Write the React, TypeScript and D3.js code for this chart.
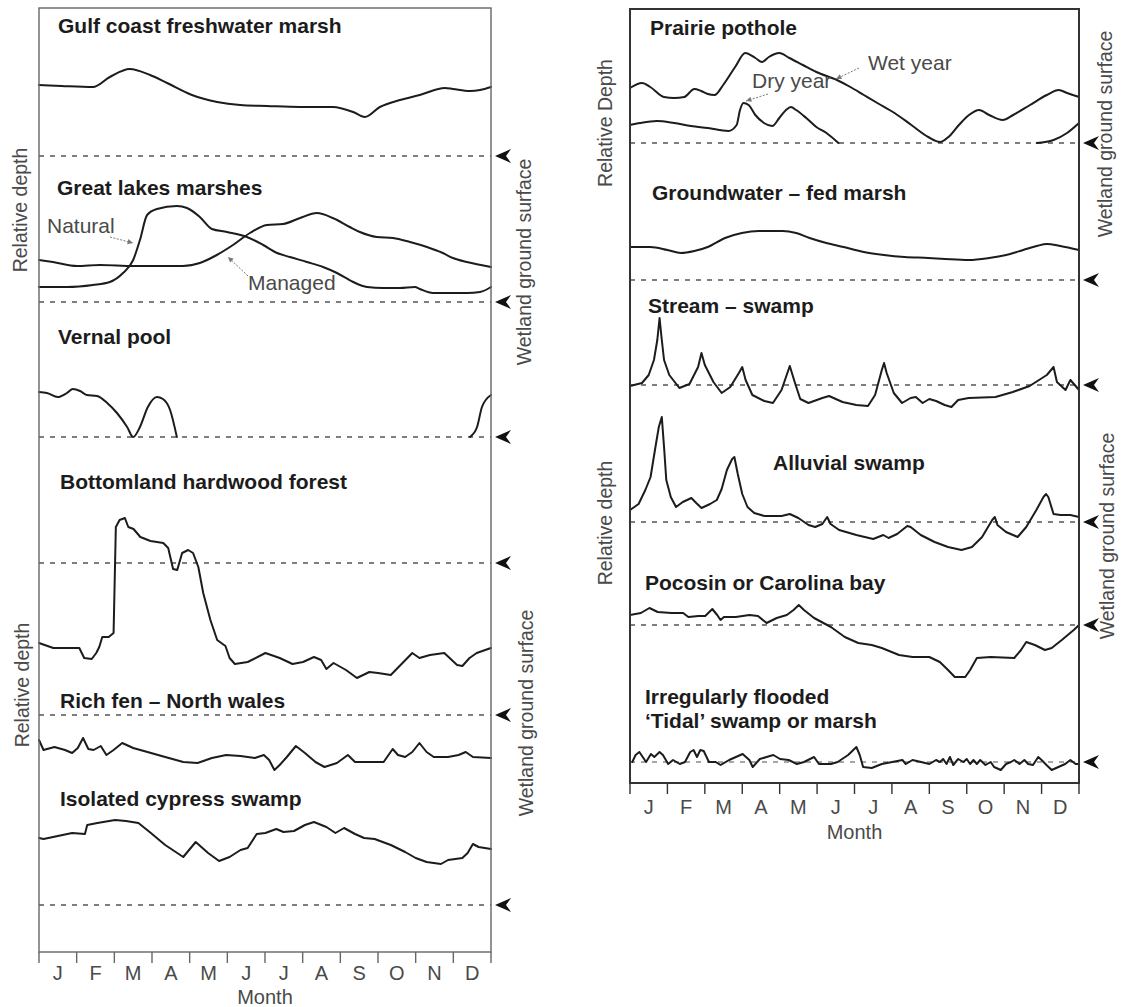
import React from "react";
import * as d3 from "d3";

type P = [number, number];

const MONTHS = ["J", "F", "M", "A", "M", "J", "J", "A", "S", "O", "N", "D"];

// ---- data: [month (0..12), relative depth above ground surface] ----
const gulfCoast: P[] = [[0,7.1],[0.6,7.0],[1.43,6.9],[1.88,7.9],[2.41,8.7],[2.95,8.1],[3.4,7.3],[4.06,6.1],[4.73,5.4],[5.34,5.1],[6.05,5.0],[6.93,4.9],[7.8,4.9],[8.34,4.4],[8.65,3.9],[9.05,4.9],[9.58,5.6],[10.11,6.1],[10.78,6.8],[10.99,6.7],[11.44,6.5],[11.71,6.6],[12,6.9]];

const greatLakesNatural: P[] = [[0,1.5],[0.74,1.5],[1.43,1.7],[1.88,2.0],[2.23,2.9],[2.5,4.2],[2.68,6.2],[2.87,8.7],[3.13,9.3],[3.66,9.6],[3.93,9.4],[4.27,8.5],[4.59,7.3],[4.99,7.0],[5.52,6.5],[5.95,5.7],[6.32,4.9],[6.66,4.5],[7.11,4.0],[7.54,3.5],[7.91,2.9],[8.34,2.0],[8.71,1.5],[9.13,1.4],[9.58,1.4],[9.98,1.5],[10.11,1.3],[10.46,0.9],[11.36,0.9],[11.71,1.0],[12,1.5]];

const greatLakesManaged: P[] = [[0,4.2],[0.37,4.0],[1.01,3.6],[1.62,3.7],[2.5,3.6],[3.21,3.6],[3.82,3.6],[4.27,3.9],[4.72,4.7],[5.15,5.7],[5.6,6.9],[6.05,7.7],[6.48,7.8],[6.93,8.4],[7.38,8.9],[7.8,8.4],[8.25,7.5],[8.52,7.0],[8.97,6.5],[9.4,6.4],[9.85,6.0],[10.3,5.5],[10.72,4.9],[10.99,4.4],[11.36,4.0],[12,3.5]];

const vernalPoolSpring: P[] = [[0,4.5],[0.21,4.4],[0.5,4.0],[0.74,4.4],[0.9,4.8],[1.09,4.6],[1.27,4.2],[1.54,4.1],[1.81,3.4],[2.07,2.4],[2.34,1.0],[2.5,0],[2.68,1.0],[2.89,3.0],[3.13,4.0],[3.29,3.8],[3.48,2.7],[3.66,0]];
const vernalPoolWinter: P[] = [[11.44,0],[11.63,1.0],[11.76,3.0],[12,4.2]];

const bottomland: P[] = [[0,-8.0],[0.38,-8.5],[1.07,-8.5],[1.2,-9.5],[1.4,-9.6],[1.52,-9.0],[1.6,-8.4],[1.68,-7.4],[1.85,-7.4],[1.98,-7.0],[2.04,3.6],[2.14,4.3],[2.28,4.5],[2.37,3.6],[2.51,3.4],[2.69,2.6],[2.96,2.2],[3.3,2.0],[3.43,1.5],[3.56,-0.6],[3.67,-0.7],[3.8,1.0],[3.96,1.3],[4.09,1.0],[4.23,-0.4],[4.36,-3.0],[4.55,-5.7],[4.73,-7.7],[4.95,-8.3],[5.06,-9.5],[5.2,-10.1],[5.54,-9.9],[6.01,-9.0],[6.39,-9.5],[6.73,-10.1],[7.01,-9.9],[7.3,-9.4],[7.49,-9.7],[7.63,-10.6],[7.82,-10.0],[8.15,-10.7],[8.44,-11.5],[8.77,-10.9],[9.0,-11.0],[9.34,-11.2],[9.91,-9.0],[10.1,-9.5],[10.38,-9.2],[10.76,-9.0],[11.1,-10.2],[11.24,-10.3],[11.43,-9.5],[11.62,-9.0],[12,-8.5]];

const richFen: P[] = [[0,-2.5],[0.12,-3.5],[0.41,-3.2],[0.69,-3.5],[0.88,-3.8],[1.03,-3.3],[1.17,-2.3],[1.31,-3.4],[1.45,-3.5],[1.64,-3.1],[1.79,-4.0],[1.98,-3.5],[2.21,-2.8],[2.5,-3.3],[2.88,-3.7],[3.35,-4.2],[3.83,-4.7],[4.21,-4.8],[4.59,-4.3],[4.97,-4.0],[5.35,-4.1],[5.73,-4.3],[5.97,-4.0],[6.11,-4.5],[6.25,-5.5],[6.39,-5.0],[6.58,-4.2],[6.82,-3.1],[7.06,-3.8],[7.34,-4.7],[7.58,-5.2],[7.91,-4.8],[8.2,-4.0],[8.39,-4.7],[8.86,-4.7],[9.15,-4.7],[9.39,-3.4],[9.53,-4.0],[9.72,-4.2],[9.91,-3.7],[10.1,-2.8],[10.29,-3.7],[10.48,-4.2],[10.86,-4.2],[11.14,-4.0],[11.33,-3.7],[11.52,-4.2],[12,-4.3]];

const cypressSwamp: P[] = [[0,6.7],[0.12,6.6],[0.5,6.9],[0.88,7.2],[1.22,7.1],[1.28,8.0],[1.55,8.2],[2.02,8.5],[2.31,8.4],[2.64,8.2],[2.97,7.2],[3.35,6.0],[3.83,4.8],[4.16,6.3],[4.49,5.2],[4.78,4.4],[5.06,4.8],[5.35,5.5],[5.54,5.7],[5.78,7.1],[6.01,7.2],[6.3,7.6],[6.49,7.3],[6.77,7.4],[7.06,8.0],[7.3,8.3],[7.63,7.8],[7.87,7.2],[8.1,7.7],[8.39,7.1],[8.63,6.7],[8.91,6.6],[9.34,6.0],[9.72,5.3],[10.0,4.7],[10.29,4.3],[10.67,4.1],[10.86,4.5],[11.24,4.7],[11.38,5.2],[11.52,6.1],[11.67,5.8],[12,5.6]];

const prairieWet: P[] = [[0,5.5],[0.32,6.0],[0.54,5.6],[0.91,4.6],[1.18,4.5],[1.45,4.6],[1.72,5.4],[1.9,5.2],[2.08,4.9],[2.26,4.8],[2.49,5.8],[2.81,7.6],[3.08,9.0],[3.35,8.5],[3.53,8.1],[3.71,8.6],[3.99,9.0],[4.26,8.5],[4.62,7.8],[4.98,7.1],[5.53,6.3],[5.89,5.6],[6.25,4.8],[6.61,4.0],[7.07,3.0],[7.52,1.8],[7.97,0.6],[8.29,0.1],[8.51,0.6],[8.79,1.8],[9.06,2.8],[9.33,3.3],[9.6,2.8],[9.96,2.3],[10.24,2.8],[10.69,3.8],[11.14,4.8],[11.46,5.3],[11.68,5.0],[12,4.6]];

const prairieDrySpring: P[] = [[0,1.8],[0.27,2.0],[0.72,2.2],[1.18,2.0],[1.63,1.7],[2.08,1.5],[2.63,1.2],[2.85,1.8],[2.94,3.3],[3.03,4.0],[3.17,3.8],[3.35,2.8],[3.58,2.0],[3.8,1.7],[3.99,2.5],[4.17,3.3],[4.3,3.6],[4.44,3.3],[4.71,2.5],[4.98,1.6],[5.25,1.0],[5.57,0]];
const prairieDryWinter: P[] = [[10.87,0],[11.32,0.3],[11.68,1.0],[12,2.0]];

const groundwaterMarsh: P[] = [[0,3.3],[0.54,3.3],[1.0,3.0],[1.36,2.7],[1.72,2.9],[2.08,3.3],[2.54,4.2],[2.99,4.7],[3.44,4.9],[4.08,4.9],[4.44,4.7],[4.8,4.2],[5.25,3.7],[5.71,3.3],[6.25,2.8],[6.79,2.5],[7.34,2.3],[7.97,2.2],[8.42,2.1],[9.06,2.0],[9.6,2.2],[10.05,2.5],[10.51,3.0],[10.87,3.4],[11.14,3.6],[11.5,3.4],[12,3.0]];

const streamSwamp: P[] = [[0,-0.1],[0.32,0.2],[0.5,1.0],[0.64,2.5],[0.73,4.5],[0.79,6.7],[0.85,4.5],[0.91,2.5],[1.05,1.0],[1.32,-0.3],[1.59,0.1],[1.82,1.8],[1.91,3.2],[2.0,2.0],[2.23,0.3],[2.45,-0.8],[2.68,-0.2],[2.91,1.2],[3.0,1.8],[3.09,0.5],[3.27,-1.0],[3.59,-1.6],[3.82,-1.8],[4.05,-0.5],[4.27,1.9],[4.41,0.2],[4.55,-1.4],[4.77,-1.8],[5.14,-1.3],[5.32,-1.1],[5.68,-1.7],[6.05,-2.0],[6.36,-2.1],[6.55,-1.0],[6.73,1.5],[6.79,2.2],[6.86,1.2],[7.05,-0.8],[7.27,-1.8],[7.5,-1.3],[7.64,-1.2],[7.82,-1.8],[8.0,-1.4],[8.18,-1.6],[8.41,-2.0],[8.59,-2.2],[8.77,-1.5],[9.05,-1.3],[9.77,-1.2],[10.23,-0.7],[10.68,-0.1],[11.14,1.0],[11.32,1.8],[11.41,0.3],[11.64,-0.5],[11.77,0.5],[11.91,-0.1],[12,-0.5]];

const alluvialSwamp: P[] = [[0,1.2],[0.23,1.8],[0.41,3.2],[0.55,4.5],[0.68,7.5],[0.77,9.5],[0.85,10.5],[0.91,7.5],[0.97,4.2],[1.09,2.5],[1.23,1.5],[1.41,2.0],[1.64,2.4],[1.77,1.9],[1.91,1.4],[2.14,1.8],[2.32,2.2],[2.45,3.3],[2.59,5.2],[2.73,6.3],[2.79,6.5],[2.88,4.8],[3.0,2.8],[3.14,1.5],[3.32,0.9],[3.59,0.6],[4.05,0.6],[4.27,0.8],[4.5,0.4],[4.77,-0.3],[4.95,-0.5],[5.14,-0.2],[5.27,0.5],[5.36,-0.2],[5.59,-0.8],[6.05,-1.3],[6.5,-1.7],[6.77,-1.3],[6.91,-1.6],[7.14,-1.2],[7.41,-0.4],[7.5,-0.5],[7.77,-1.3],[8.14,-2.0],[8.5,-2.5],[8.86,-2.8],[9.14,-2.5],[9.41,-1.5],[9.68,0.2],[9.75,0.5],[9.82,-0.3],[10.05,-1.0],[10.36,-1.5],[10.59,-0.5],[10.86,1.2],[11.05,2.5],[11.12,2.8],[11.18,2.5],[11.32,0.8],[11.5,0.7],[11.77,0.7],[12,0.5]];

const pocosinBay: P[] = [[0,1.0],[0.29,1.2],[0.52,1.7],[0.74,1.3],[1.11,1.2],[1.42,1.2],[1.56,0.8],[1.83,0.9],[2.01,0.9],[2.2,1.6],[2.33,1.0],[2.42,0.5],[2.51,0.8],[2.83,0.8],[3.19,1.0],[3.42,0.9],[3.65,0.2],[3.92,0.7],[4.19,1.0],[4.37,1.5],[4.51,2.0],[4.65,1.5],[4.92,0.7],[5.37,-0.2],[5.74,-1.2],[6.1,-1.8],[6.46,-2.0],[6.73,-2.3],[7.19,-3.0],[7.55,-3.2],[8.0,-3.2],[8.28,-3.7],[8.5,-4.5],[8.68,-5.2],[8.96,-5.2],[9.09,-4.5],[9.27,-3.3],[9.64,-3.2],[10.27,-3.3],[10.45,-2.5],[10.59,-1.7],[10.82,-2.0],[11.09,-2.5],[11.27,-2.3],[11.54,-1.5],[11.86,-0.5],[12,0]];

const tidalMarsh: P[] = [[0.06,0],[0.15,0.7],[0.25,1.0],[0.34,0.5],[0.43,0],[0.56,0.8],[0.65,0.5],[0.79,1.0],[0.88,0.7],[1.02,-0.2],[1.15,0.2],[1.33,-0.2],[1.47,0],[1.61,1.0],[1.7,1.2],[1.79,0.5],[1.88,1.2],[1.97,1.1],[2.11,0],[2.29,0],[2.42,-0.3],[2.65,0.2],[2.83,0.5],[3.01,0.8],[3.19,0.2],[3.28,-0.5],[3.47,0.3],[3.65,0.5],[3.83,0.7],[4.01,0.3],[4.24,0.2],[4.46,-0.2],[4.65,0],[4.92,0.5],[5.05,-0.2],[5.37,-0.2],[5.55,0],[5.83,0.7],[6.05,1.5],[6.14,0.7],[6.23,-0.5],[6.46,-0.6],[6.73,-0.2],[7.01,0],[7.28,0.2],[7.37,-0.2],[7.55,0.2],[7.78,0],[8.0,-0.2],[8.18,0.2],[8.28,0],[8.37,0.3],[8.46,-0.2],[8.55,0.5],[8.64,-0.3],[8.77,0.3],[8.91,0],[9.0,0.3],[9.09,-0.2],[9.18,0.2],[9.27,-0.2],[9.36,0.2],[9.5,-0.3],[9.64,0],[9.73,-0.5],[9.91,-0.8],[10.05,-0.2],[10.18,0],[10.27,0.2],[10.41,-0.2],[10.54,0.2],[10.64,-0.2],[10.77,-0.3],[10.91,0.5],[11.0,0.2],[11.13,-0.3],[11.27,-0.8],[11.45,-0.5],[11.63,-0.2],[11.77,0.2],[11.91,-0.2],[12,-0.2]];

// ---- layout ----
const FONT = "'Liberation Sans', Arial, Helvetica, sans-serif";
const INK = "#1c1c1c";
const GREY = "#4a4a4a";
const PX_PER_UNIT = 10;
const TITLE_SIZE = 21;
const LABEL_SIZE = 21;
const AXIS_SIZE = 19.5;
const MONTH_SIZE = 20;

type Series = { data: P[]; smooth: boolean };
type Plot = { title: string[]; tx: number; ty: number; ground: number; series: Series[]; faintDash?: boolean };
type Panel = { x0: number; x1: number; top: number; bottom: number; plots: Plot[]; frame: string; frameW: number };

const leftPanel: Panel = {
  x0: 39, x1: 491, top: 8, bottom: 952, frame: "#666", frameW: 1.4,
  plots: [
    { title: ["Gulf coast freshwater marsh"], tx: 58, ty: 33, ground: 156, series: [{ data: gulfCoast, smooth: true }] },
    { title: ["Great lakes marshes"], tx: 57, ty: 195, ground: 302, series: [{ data: greatLakesNatural, smooth: true }, { data: greatLakesManaged, smooth: true }] },
    { title: ["Vernal pool"], tx: 58, ty: 344, ground: 437, series: [{ data: vernalPoolSpring, smooth: true }, { data: vernalPoolWinter, smooth: true }] },
    { title: ["Bottomland hardwood forest"], tx: 60, ty: 489, ground: 563, series: [{ data: bottomland, smooth: false }] },
    { title: ["Rich fen \u2013 North wales"], tx: 60, ty: 708, ground: 715, series: [{ data: richFen, smooth: false }] },
    { title: ["Isolated cypress swamp"], tx: 60, ty: 806, ground: 905, series: [{ data: cypressSwamp, smooth: false }] },
  ],
};

const rightPanel: Panel = {
  x0: 630, x1: 1079, top: 9, bottom: 783, frame: "#333", frameW: 2,
  plots: [
    { title: ["Prairie pothole"], tx: 650, ty: 35, ground: 143, series: [{ data: prairieWet, smooth: true }, { data: prairieDrySpring, smooth: true }, { data: prairieDryWinter, smooth: true }] },
    { title: ["Groundwater \u2013 fed marsh"], tx: 652, ty: 200, ground: 280, series: [{ data: groundwaterMarsh, smooth: true }] },
    { title: ["Stream \u2013 swamp"], tx: 648, ty: 313, ground: 385, series: [{ data: streamSwamp, smooth: false }] },
    { title: ["Alluvial swamp"], tx: 773, ty: 470, ground: 522, series: [{ data: alluvialSwamp, smooth: false }] },
    { title: ["Pocosin or Carolina bay"], tx: 645, ty: 590, ground: 625, series: [{ data: pocosinBay, smooth: false }] },
    { title: ["Irregularly flooded", "\u2018Tidal\u2019 swamp or marsh"], tx: 645, ty: 704, ground: 762, series: [{ data: tidalMarsh, smooth: false }], faintDash: true },
  ],
};

function arrowHead(x: number, y: number) {
  return `M${x},${y} L${x + 16},${y - 7} L${x + 11},${y} L${x + 16},${y + 7} Z`;
}

function PanelView({ p, labelBottom, monthBaseline }: { p: Panel; labelBottom: number; monthBaseline: number }) {
  const x = d3.scaleLinear().domain([0, 12]).range([p.x0, p.x1]);
  const ticks = d3.range(0, 13);
  return (
    <g>
      {p.plots.map((pl, i) => {
        const y = d3.scaleLinear().domain([0, 1]).range([pl.ground, pl.ground - PX_PER_UNIT]);
        return (
          <g key={i}>
            <line x1={p.x0} x2={p.x1} y1={pl.ground} y2={pl.ground} stroke={pl.faintDash ? "#8a8a8a" : "#555"} strokeWidth={1.3} strokeDasharray="5,6" />
            <path d={arrowHead(p.x1 + 4, pl.ground)} fill="#111" />
            {pl.series.map((s, j) => {
              const line = d3.line<P>().x((d) => x(d[0])).y((d) => y(d[1])).curve(s.smooth ? d3.curveMonotoneX : d3.curveLinear);
              return <path key={j} d={line(s.data) || ""} fill="none" stroke={INK} strokeWidth={2} strokeLinejoin="round" strokeLinecap="round" />;
            })}
            {pl.title.map((t, k) => (
              <text key={k} x={pl.tx} y={pl.ty + k * 24} fontFamily={FONT} fontWeight="bold" fontSize={TITLE_SIZE} fill={INK}>{t}</text>
            ))}
          </g>
        );
      })}
      <rect x={p.x0} y={p.top} width={p.x1 - p.x0} height={p.bottom - p.top} fill="none" stroke={p.frame} strokeWidth={p.frameW} />
      {ticks.map((t) => (
        <line key={t} x1={x(t)} x2={x(t)} y1={p.bottom} y2={p.bottom + 11} stroke={p.frame} strokeWidth={1.4} />
      ))}
      {MONTHS.map((m, i) => (
        <text key={i} x={x(i + 0.5)} y={monthBaseline} textAnchor="middle" fontFamily={FONT} fontSize={MONTH_SIZE} fill={GREY}>{m}</text>
      ))}
      <text x={(p.x0 + p.x1) / 2} y={labelBottom} textAnchor="middle" fontFamily={FONT} fontSize={MONTH_SIZE} fill={GREY}>Month</text>
    </g>
  );
}

function VLabel({ x, y, text }: { x: number; y: number; text: string }) {
  return (
    <text transform={`translate(${x},${y}) rotate(-90)`} textAnchor="middle" fontFamily={FONT} fontSize={AXIS_SIZE} fill={GREY}>{text}</text>
  );
}

function Leader({ x1, y1, x2, y2 }: { x1: number; y1: number; x2: number; y2: number }) {
  const a = Math.atan2(y2 - y1, x2 - x1);
  const L = 6;
  const p1 = [x2 - L * Math.cos(a - 0.45), y2 - L * Math.sin(a - 0.45)];
  const p2 = [x2 - L * Math.cos(a + 0.45), y2 - L * Math.sin(a + 0.45)];
  return (
    <g>
      <line x1={x1} y1={y1} x2={x2} y2={y2} stroke="#777" strokeWidth={1} strokeDasharray="2,1.5" />
      <path d={`M${x2},${y2} L${p1[0]},${p1[1]} L${p2[0]},${p2[1]} Z`} fill="#777" />
    </g>
  );
}

export default function App() {
  return (
    <svg width={1135} height={1007} viewBox="0 0 1135 1007" style={{ position: "absolute", left: 0, top: 0, background: "#fff" }}>
      <rect x={0} y={0} width={1135} height={1007} fill="#fff" />
      <PanelView p={leftPanel} labelBottom={1004} monthBaseline={980} />
      <PanelView p={rightPanel} labelBottom={839} monthBaseline={814} />

      <VLabel x={27} y={210} text="Relative depth" />
      <VLabel x={29} y={685} text="Relative depth" />
      <VLabel x={531} y={262} text="Wetland ground surface" />
      <VLabel x={533} y={713} text="Wetland ground surface" />
      <VLabel x={612} y={123} text="Relative Depth" />
      <VLabel x={612} y={523} text="Relative depth" />
      <VLabel x={1112} y={134} text="Wetland ground surface" />
      <VLabel x={1114} y={536} text="Wetland ground surface" />

      <text x={47} y={233} fontFamily={FONT} fontSize={LABEL_SIZE} fill={GREY}>Natural</text>
      <Leader x1={110} y1={237} x2={133} y2={243} />
      <text x={248} y={290} fontFamily={FONT} fontSize={LABEL_SIZE} fill={GREY}>Managed</text>
      <Leader x1={248} y1={276} x2={228} y2={257} />
      <text x={868} y={70} fontFamily={FONT} fontSize={LABEL_SIZE} fill={GREY}>Wet year</text>
      <Leader x1={859} y1={68} x2={836} y2={79} />
      <text x={752} y={88} fontFamily={FONT} fontSize={LABEL_SIZE} fill={GREY}>Dry year</text>
      <Leader x1={768} y1={94} x2={746} y2={101} />
    </svg>
  );
}
